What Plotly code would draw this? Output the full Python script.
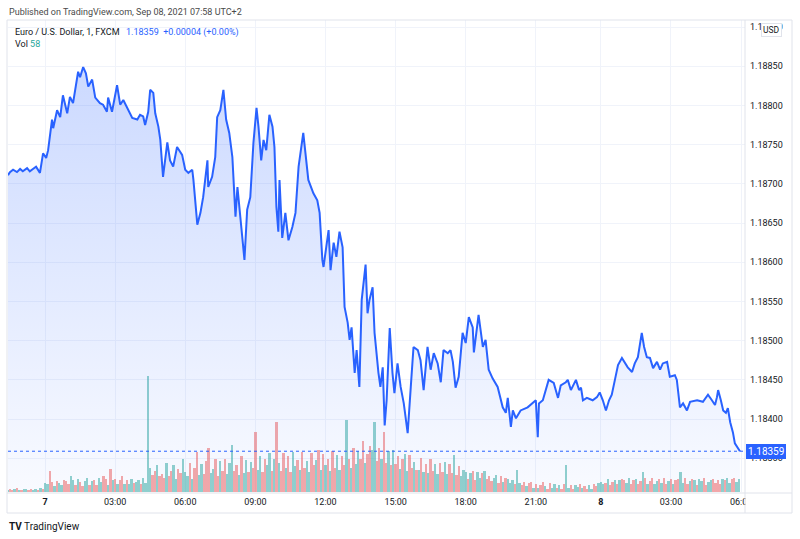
import pandas as pd
from plotly import graph_objects as go

# EUR/USD 1-minute (FXCM), sampled from the chart
TIMES = [
    "2021-09-06 22:25", "2021-09-06 22:30", "2021-09-06 22:38", "2021-09-06 22:48", "2021-09-06 22:56",
    "2021-09-06 23:03", "2021-09-06 23:14", "2021-09-06 23:21", "2021-09-06 23:29", "2021-09-06 23:37",
    "2021-09-06 23:47", "2021-09-06 23:55",
    "2021-09-07 00:03", "2021-09-07 00:08", "2021-09-07 00:18", "2021-09-07 00:21", "2021-09-07 00:31",
    "2021-09-07 00:39", "2021-09-07 00:46", "2021-09-07 00:57", "2021-09-07 01:04", "2021-09-07 01:12",
    "2021-09-07 01:25", "2021-09-07 01:30", "2021-09-07 01:38", "2021-09-07 01:45", "2021-09-07 01:51",
    "2021-09-07 02:01", "2021-09-07 02:09", "2021-09-07 02:21", "2021-09-07 02:29", "2021-09-07 02:39",
    "2021-09-07 02:42", "2021-09-07 02:52", "2021-09-07 03:05", "2021-09-07 03:13", "2021-09-07 03:21",
    "2021-09-07 03:31", "2021-09-07 03:44", "2021-09-07 03:57", "2021-09-07 04:04", "2021-09-07 04:12",
    "2021-09-07 04:17", "2021-09-07 04:25", "2021-09-07 04:30", "2021-09-07 04:38", "2021-09-07 04:43",
    "2021-09-07 04:51", "2021-09-07 04:56", "2021-09-07 05:03", "2021-09-07 05:14", "2021-09-07 05:21",
    "2021-09-07 05:29", "2021-09-07 05:39", "2021-09-07 05:52", "2021-09-07 06:00", "2021-09-07 06:08",
    "2021-09-07 06:18", "2021-09-07 06:21", "2021-09-07 06:31", "2021-09-07 06:39", "2021-09-07 06:46",
    "2021-09-07 06:57", "2021-09-07 06:59", "2021-09-07 07:09", "2021-09-07 07:17", "2021-09-07 07:22",
    "2021-09-07 07:30", "2021-09-07 07:38", "2021-09-07 07:45", "2021-09-07 07:53", "2021-09-07 08:01",
    "2021-09-07 08:03", "2021-09-07 08:09", "2021-09-07 08:14", "2021-09-07 08:21", "2021-09-07 08:32",
    "2021-09-07 08:39", "2021-09-07 08:47", "2021-09-07 08:55", "2021-09-07 09:03", "2021-09-07 09:08",
    "2021-09-07 09:15", "2021-09-07 09:21", "2021-09-07 09:28", "2021-09-07 09:36", "2021-09-07 09:44",
    "2021-09-07 09:49", "2021-09-07 09:54", "2021-09-07 09:59", "2021-09-07 10:02", "2021-09-07 10:09",
    "2021-09-07 10:17", "2021-09-07 10:25", "2021-09-07 10:35", "2021-09-07 10:43", "2021-09-07 10:51",
    "2021-09-07 11:03", "2021-09-07 11:11", "2021-09-07 11:16", "2021-09-07 11:29", "2021-09-07 11:39",
    "2021-09-07 11:45", "2021-09-07 11:52", "2021-09-07 11:55", "2021-09-07 12:03", "2021-09-07 12:08",
    "2021-09-07 12:13", "2021-09-07 12:21", "2021-09-07 12:28", "2021-09-07 12:36", "2021-09-07 12:44",
    "2021-09-07 12:49", "2021-09-07 12:57", "2021-09-07 13:02", "2021-09-07 13:07", "2021-09-07 13:15",
    "2021-09-07 13:20", "2021-09-07 13:27", "2021-09-07 13:33", "2021-09-07 13:43", "2021-09-07 13:48",
    "2021-09-07 13:53", "2021-09-07 14:01", "2021-09-07 14:06", "2021-09-07 14:16", "2021-09-07 14:21",
    "2021-09-07 14:27", "2021-09-07 14:32", "2021-09-07 14:37", "2021-09-07 14:45", "2021-09-07 14:52",
    "2021-09-07 14:57", "2021-09-07 15:05", "2021-09-07 15:13", "2021-09-07 15:21", "2021-09-07 15:31",
    "2021-09-07 15:39", "2021-09-07 15:46", "2021-09-07 15:57", "2021-09-07 16:04", "2021-09-07 16:12",
    "2021-09-07 16:22", "2021-09-07 16:30", "2021-09-07 16:38", "2021-09-07 16:48", "2021-09-07 16:56",
    "2021-09-07 17:03", "2021-09-07 17:14", "2021-09-07 17:21", "2021-09-07 17:27", "2021-09-07 17:34",
    "2021-09-07 17:42", "2021-09-07 17:52", "2021-09-07 18:00", "2021-09-07 18:08", "2021-09-07 18:18",
    "2021-09-07 18:21", "2021-09-07 18:31", "2021-09-07 18:33", "2021-09-07 18:44", "2021-09-07 18:51",
    "2021-09-07 18:59", "2021-09-07 19:09", "2021-09-07 19:22", "2021-09-07 19:35", "2021-09-07 19:43",
    "2021-09-07 19:48", "2021-09-07 19:56", "2021-09-07 20:01", "2021-09-07 20:09", "2021-09-07 20:21",
    "2021-09-07 20:39", "2021-09-07 20:52", "2021-09-07 21:00", "2021-09-07 21:05", "2021-09-07 21:08",
    "2021-09-07 21:18", "2021-09-07 21:26", "2021-09-07 21:33", "2021-09-07 21:46", "2021-09-07 21:57",
    "2021-09-07 22:04", "2021-09-07 22:17", "2021-09-07 22:22", "2021-09-07 22:30", "2021-09-07 22:43",
    "2021-09-07 22:51", "2021-09-07 22:56", "2021-09-07 23:14", "2021-09-07 23:24", "2021-09-07 23:32",
    "2021-09-07 23:39", "2021-09-07 23:50", "2021-09-07 23:57",
    "2021-09-08 00:05", "2021-09-08 00:13", "2021-09-08 00:21", "2021-09-08 00:28", "2021-09-08 00:36",
    "2021-09-08 00:44", "2021-09-08 00:54", "2021-09-08 01:02", "2021-09-08 01:09", "2021-09-08 01:20",
    "2021-09-08 01:27", "2021-09-08 01:35", "2021-09-08 01:45", "2021-09-08 01:51", "2021-09-08 01:58",
    "2021-09-08 02:06", "2021-09-08 02:14", "2021-09-08 02:24", "2021-09-08 02:32", "2021-09-08 02:39",
    "2021-09-08 02:50", "2021-09-08 02:57", "2021-09-08 03:10", "2021-09-08 03:15", "2021-09-08 03:23",
    "2021-09-08 03:31", "2021-09-08 03:41", "2021-09-08 03:49", "2021-09-08 04:07", "2021-09-08 04:22",
    "2021-09-08 04:35", "2021-09-08 04:45", "2021-09-08 04:53", "2021-09-08 04:58", "2021-09-08 05:01",
    "2021-09-08 05:08", "2021-09-08 05:14", "2021-09-08 05:21", "2021-09-08 05:26", "2021-09-08 05:32",
    "2021-09-08 05:39", "2021-09-08 05:44", "2021-09-08 05:50", "2021-09-08 05:52", "2021-09-08 05:57",
]

PRICES = [
    1.18711, 1.18715, 1.18718, 1.18715, 1.18719, 1.18716, 1.18720, 1.18716, 1.18719, 1.18722,
    1.18714, 1.18739,
    1.18733, 1.18743, 1.18782, 1.18771, 1.18794, 1.18785, 1.18813, 1.18790, 1.18811, 1.18803,
    1.18843, 1.18836, 1.18849, 1.18841, 1.18824, 1.18833, 1.18810, 1.18803, 1.18801, 1.18792,
    1.18810, 1.18792, 1.18826, 1.18801, 1.18807, 1.18797, 1.18784, 1.18782, 1.18788, 1.18786,
    1.18775, 1.18792, 1.18820, 1.18816, 1.18790, 1.18773, 1.18756, 1.18709, 1.18753, 1.18730,
    1.18722, 1.18747, 1.18737, 1.18718, 1.18714, 1.18718, 1.18705, 1.18648, 1.18663, 1.18683,
    1.18730, 1.18696, 1.18709, 1.18734, 1.18785, 1.18794, 1.18820, 1.18782, 1.18765, 1.18734,
    1.18714, 1.18658, 1.18696, 1.18663, 1.18603, 1.18667, 1.18683, 1.18752, 1.18797, 1.18773,
    1.18730, 1.18756, 1.18743, 1.18788, 1.18773, 1.18747, 1.18671, 1.18639, 1.18705, 1.18631,
    1.18663, 1.18628, 1.18645, 1.18663, 1.18722, 1.18765, 1.18722, 1.18705, 1.18688, 1.18679,
    1.18663, 1.18603, 1.18594, 1.18625, 1.18641, 1.18590, 1.18625, 1.18607, 1.18639, 1.18619,
    1.18543, 1.18523, 1.18501, 1.18517, 1.18459, 1.18488, 1.18441, 1.18552, 1.18597, 1.18535,
    1.18552, 1.18568, 1.18510, 1.18459, 1.18441, 1.18466, 1.18392, 1.18424, 1.18516, 1.18459,
    1.18433, 1.18471, 1.18441, 1.18420, 1.18382, 1.18441, 1.18492, 1.18488, 1.18475, 1.18437,
    1.18492, 1.18463, 1.18484, 1.18471, 1.18447, 1.18488, 1.18484, 1.18488, 1.18473, 1.18440,
    1.18454, 1.18510, 1.18497, 1.18530, 1.18517, 1.18485, 1.18526, 1.18533, 1.18492, 1.18501,
    1.18463, 1.18452, 1.18441, 1.18415, 1.18408, 1.18427, 1.18390, 1.18411, 1.18401, 1.18411,
    1.18415, 1.18420, 1.18424, 1.18377, 1.18420, 1.18424, 1.18437, 1.18450, 1.18446, 1.18427,
    1.18443, 1.18447, 1.18450, 1.18437, 1.18450, 1.18437, 1.18440, 1.18424, 1.18427, 1.18425,
    1.18424, 1.18428, 1.18434,
    1.18424, 1.18411, 1.18424, 1.18431, 1.18450, 1.18469, 1.18478, 1.18471, 1.18466, 1.18460,
    1.18471, 1.18479, 1.18510, 1.18492, 1.18479, 1.18478, 1.18465, 1.18473, 1.18463, 1.18471,
    1.18473, 1.18454, 1.18456, 1.18450, 1.18415, 1.18420, 1.18411, 1.18422, 1.18424, 1.18422,
    1.18431, 1.18424, 1.18418, 1.18428, 1.18437, 1.18424, 1.18411, 1.18408, 1.18414, 1.18396,
    1.18383, 1.18369, 1.18364, 1.18363, 1.18359,
]

# volume, one bar per 6 minutes from 2021-09-06 22:24
VOL_START = "2021-09-06 22:24"
VOLUMES = [
    10, 14, 8, 12, 16, 11,
    9, 13, 15, 10, 12, 8, 14, 11, 16, 13,
    40, 35, 95, 45, 28, 50, 42, 30, 55, 48,
    34, 70, 52, 30, 60, 45, 28, 50, 65, 32,
    48, 55, 30, 62, 45, 70, 58, 32, 105, 52,
    60, 35, 55, 70, 38, 52, 34, 58, 40, 46,
    55, 38, 62, 40, 520, 110, 75, 95, 120, 70,
    80, 65, 130, 70, 95, 120, 60, 105, 85, 150,
    90, 70, 130, 60, 110, 180, 75, 125, 80, 140,
    200, 85, 105, 150, 70, 140, 95, 150, 80, 130,
    210, 95, 120, 75, 160, 85, 145, 90, 135, 110,
    270, 100, 160, 90, 150, 120, 175, 95, 150, 315,
    130, 95, 175, 110, 160, 90, 180, 115, 145, 100,
    180, 110, 140, 90, 175, 120, 145, 190, 100, 170,
    120, 150, 95, 185, 110, 165, 100, 160, 120, 325,
    150, 110, 200, 125, 185, 150, 230, 130, 170, 205,
    190, 315, 140, 200, 150, 270, 130, 185, 120, 190,
    125, 160, 105, 150, 170, 95, 165, 110, 135, 100,
    100, 155, 90, 125, 85, 150, 95, 125, 80, 130,
    90, 135, 80, 125, 85, 165, 75, 115, 70, 100,
    90, 60, 85, 95, 55, 90, 65, 85, 95, 60,
    70, 50, 65, 75, 40, 70, 45, 65, 60, 40,
    55, 35, 100, 40, 30, 45, 25, 40, 45, 20,
    35, 20, 30, 45, 25, 15, 40, 20, 35, 18,
    30, 15, 35, 120, 18, 32, 15, 30, 22, 35,
    30, 15, 20, 28, 12, 30, 15, 35, 28, 40,
    45, 35, 40, 60, 30, 45, 55, 38, 52, 60,
    55, 40, 65, 38, 52, 60, 35, 48, 90, 62,
    38, 50, 62, 35, 48, 60, 42, 65, 35, 50,
    60, 35, 52, 58, 90, 40, 62, 35, 48, 58,
    55, 30, 58, 48, 62, 32, 45, 55, 60, 40,
    52, 38, 60, 55, 65, 40, 58, 62, 45, 58,
]
VOL_DIR = (
    "uddudu" "duudduudud"
    "uudduduudd" "duududduud" "udduuddudu" "dudduduudu" "uduuuuddud" "ddudduuddu"
    "uududduudd" "duuddudduu" "udduduudud" "duudduudud" "uddudduudu" "dduuddudud"
    "ududduuddu" "duduuddudd" "uudduddudu" "dduduuddud" "udududduud" "duuddudduu"
    "ududduudud" "dduudduduu" "uduudduddu" "duddudduud" "udduudduud" "ddudduuddu"
    "uududdudud" "duudduddud" "udduududdu" "dudduuddud" "uduudduudd" "dduduudduu"
)

X_TICKS = ["2021-09-07 00:00", "2021-09-07 03:00", "2021-09-07 06:00", "2021-09-07 09:00",
           "2021-09-07 12:00", "2021-09-07 15:00", "2021-09-07 18:00", "2021-09-07 21:00",
           "2021-09-08 00:00", "2021-09-08 03:00", "2021-09-08 06:00"]
X_TICK_TEXT = ["<b>7</b>", "03:00", "06:00", "09:00", "12:00", "15:00", "18:00", "21:00",
               "<b>8</b>", "03:00", "06:00"]
Y_TICKS = [1.1835, 1.1840, 1.1845, 1.1850, 1.1855, 1.1860, 1.1865, 1.1870, 1.1875,
           1.1880, 1.1885, 1.1890]

LAST_PRICE = 1.18359
BLUE = "#2962FF"
GRID = "#f0f3fa"
BORDER = "#e0e3eb"
FONT = "Roboto"

# plot area in pixels: x 8..745, y 20..492
def px(x):
    return (x - 8) / 737

def py(y):
    return (492 - y) / 472


vol_times = pd.date_range(VOL_START, periods=len(VOLUMES), freq="6min")
vol_colors = ["rgba(38,166,154,0.5)" if d == "u" else "rgba(239,83,80,0.5)" for d in VOL_DIR]

fig = go.Figure()

fig.add_trace(go.Bar(
    x=vol_times,
    y=VOLUMES,
    width=6 * 60 * 1000,
    marker=dict(color=vol_colors, line=dict(width=0)),
    yaxis="y",
    showlegend=False,
))

fig.add_trace(go.Scatter(
    x=pd.to_datetime(TIMES),
    y=PRICES,
    mode="lines",
    line=dict(color=BLUE, width=2),
    fill="tozeroy",
    fillgradient=dict(
        type="vertical",
        start=1.18307,
        stop=1.18850,
        colorscale=[[0, "rgba(41,98,255,0.03)"], [1, "rgba(41,98,255,0.24)"]],
    ),
    yaxis="y2",
    showlegend=False,
))

fig.update_layout(
    width=800,
    height=539,
    margin=dict(l=8, r=55, t=20, b=47),
    paper_bgcolor="white",
    plot_bgcolor="white",
    font=dict(family=FONT, color="#131722"),
    bargap=0,
    xaxis=dict(
        type="date",
        range=["2021-09-06 22:25", "2021-09-08 06:10"],
        rangebreaks=[dict(values=["2021-09-07 22:58"], dvalue=13 * 60 * 1000)],
        tickvals=X_TICKS,
        ticktext=X_TICK_TEXT,
        showgrid=True,
        gridcolor=GRID,
        zeroline=False,
        showline=False,
        ticks="",
        ticklabelstandoff=3,
        tickfont=dict(size=9, color="#131722"),
    ),
    yaxis=dict(range=[0, 2124], visible=False, showgrid=False, fixedrange=True),
    yaxis2=dict(
        overlaying="y",
        side="right",
        range=[1.18307, 1.18909],
        tickvals=Y_TICKS,
        ticktext=[f"{v:.5f}" for v in Y_TICKS],
        showgrid=True,
        gridcolor=GRID,
        zeroline=False,
        showline=False,
        ticks="",
        ticklabelstandoff=4,
        tickfont=dict(size=9, color="#131722"),
    ),
)

# last price dotted line
fig.add_shape(type="line", xref="paper", yref="y2", x0=0, x1=1,
              y0=LAST_PRICE, y1=LAST_PRICE, line=dict(color=BLUE, width=1, dash="dot"))

# price-scale column hides the end of the last time label, as in the original
fig.add_shape(type="rect", xref="paper", yref="paper", x0=px(745.5), x1=px(791.5), y0=py(512.5),
              y1=py(493.5), fillcolor="white", line=dict(width=0), layer="above")

# chart frame and axis separators
frame = dict(color=BORDER, width=1)
fig.add_shape(type="rect", xref="paper", yref="paper", x0=px(7), x1=px(792), y0=py(513), y1=py(20),
              line=frame, layer="above")
fig.add_shape(type="line", xref="paper", yref="paper", x0=px(745), x1=px(745), y0=py(513), y1=py(20),
              line=frame, layer="above")
fig.add_shape(type="line", xref="paper", yref="paper", x0=px(7), x1=px(792), y0=py(493), y1=py(493),
              line=frame, layer="above")

annotations = [
    dict(x=px(7), y=py(12), text="Published on TradingView.com, Sep 08, 2021 07:58 UTC+2",
         font=dict(size=9, color="#4a4a4a")),
    dict(x=px(13), y=py(32), text="Euro / U.S. Dollar, 1, FXCM",
         font=dict(size=9, color="#131722")),
    dict(x=px(124), y=py(32), text="1.18359 \u00a0+0.00004 (+0.00%)",
         font=dict(size=9, color=BLUE)),
    dict(x=px(13), y=py(44), text="Vol <span style='color:#26a69a'>58</span>",
         font=dict(size=9, color="#131722")),
    dict(x=px(7), y=py(526), text="<b>TV</b> TradingView",
         font=dict(size=10, color="#131722")),
]
for a in annotations:
    fig.add_annotation(xref="paper", yref="paper", xanchor="left", yanchor="middle",
                       showarrow=False, **a)

fig.add_annotation(xref="paper", yref="y2", x=px(746), y=LAST_PRICE, text="1.18359",
                   xanchor="left", yanchor="middle", showarrow=False,
                   bgcolor=BLUE, bordercolor=BLUE, borderpad=1,
                   font=dict(size=10, color="white"))
fig.add_annotation(xref="paper", yref="paper", x=px(771), y=py(30), text="USD",
                   xanchor="center", yanchor="middle", showarrow=False,
                   bgcolor="white", bordercolor=BORDER, borderwidth=1, borderpad=1,
                   font=dict(size=8.5, color="#131722"))

# the default page adds an 8px body margin; remove it so the figure sits at the top-left
fig.write_html("out.html", config={"displayModeBar": False},
               post_script="document.body.style.margin='0';")
